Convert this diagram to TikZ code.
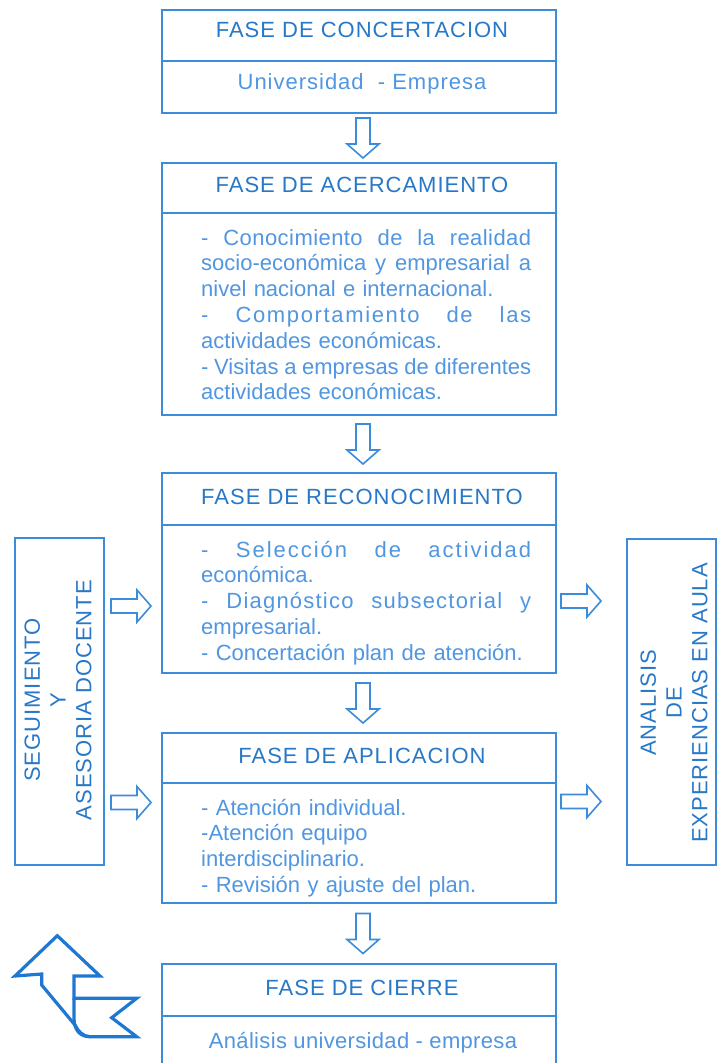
\documentclass[tikz,border=0pt]{standalone}
\usepackage{fontspec}
\setmainfont{Liberation Sans}
\newfontfamily\hdfont[LetterSpace=4.5]{Liberation Sans}
\newfontfamily\lowfont[LetterSpace=1.5]{Liberation Sans}
\newfontfamily\lsA[LetterSpace=9]{Liberation Sans}
\newfontfamily\lsB[LetterSpace=5.5]{Liberation Sans}
\newfontfamily\lsC[LetterSpace=7.5]{Liberation Sans}
\newfontfamily\lsD[LetterSpace=2]{Liberation Sans}
\usetikzlibrary{calc}
\definecolor{lineblue}{RGB}{60,140,220}
\definecolor{headblue}{RGB}{40,120,200}
\definecolor{bodyblue}{RGB}{80,150,225}
\definecolor{iconblue}{RGB}{30,120,210}
\newcommand{\jline}[2][\relax]{\makebox[330pt][s]{#1\spaceskip=0.278em plus 4em minus 0.1em\relax #2}}
\begin{document}
\begin{tikzpicture}[x=1pt,y=-1pt,
  every node/.style={font=\fontsize{22}{25.8}\selectfont},
  box/.style={draw=lineblue, line width=1.6pt, inner sep=0pt},
  headtext/.style={text=headblue, anchor=base, inner sep=0pt, font=\fontsize{22}{25.8}\selectfont\hdfont},
  bodytext/.style={text=bodyblue, anchor=base west, inner sep=0pt, text width=330pt, align=left},
  sidetext/.style={text=headblue, rotate=90, align=center, inner sep=0pt, font=\fontsize{22}{25.8}\selectfont\hdfont},
  arrowline/.style={draw=lineblue, line width=1.6pt, line join=miter, fill=white},
  barrow/.pic={\draw[arrowline] (-20,-7) -- (6,-7) -- (6,-16) -- (20,0) -- (6,16) -- (6,7) -- (-20,7) -- cycle;}
]
\useasboundingbox (0,0) rectangle (722,1063);
\fill[white] (0,0) rectangle (722,1063);
\clip (0,0) rectangle (722,1063);

% phase boxes
\node[box, minimum width=394pt, minimum height=51pt] (h1) at (359,35.5) {};
\node[box, minimum width=394pt, minimum height=52pt] (b1) at (359,87) {};
\node[box, minimum width=394pt, minimum height=50pt] (h2) at (359,188) {};
\node[box, minimum width=394pt, minimum height=202pt] (b2) at (359,314) {};
\node[box, minimum width=394pt, minimum height=52pt] (h3) at (359,499) {};
\node[box, minimum width=394pt, minimum height=148pt] (b3) at (359,599) {};
\node[box, minimum width=394pt, minimum height=50pt] (h4) at (359,758) {};
\node[box, minimum width=394pt, minimum height=120pt] (b4) at (359,843) {};
\node[box, minimum width=394pt, minimum height=52pt] (h5) at (359,990) {};
\node[box, minimum width=394pt, minimum height=64pt] (b5) at (359,1048) {};

% texts
\node[headtext] (t1) at (362,37) {FASE DE CONCERTACION};
\node[headtext, text=bodyblue] (u1) at (362,89) {Universidad\ \ - Empresa};
\node[headtext] (t2) at (362,192) {FASE DE ACERCAMIENTO};
\node[bodytext] (u2) at (201,245) {%
\jline[\lsD]{- Conocimiento de la realidad}\\
\jline{socio-económica y empresarial a}\\
nivel nacional e internacional.\\
\jline[\lsC]{- Comportamiento de las}\\
actividades económicas.\\
\jline{- Visitas a empresas de diferentes}\\
actividades económicas.};
\node[headtext] (t3) at (362,504) {FASE DE RECONOCIMIENTO};
\node[bodytext] (u3) at (201,557) {%
\jline[\lsA]{- Selección de actividad}\\
económica.\\
\jline[\lsB]{- Diagnóstico subsectorial y}\\
empresarial.\\
- Concertación plan de atención.};
\node[headtext] (t4) at (362,763) {FASE DE APLICACION};
\node[bodytext] (u4) at (201,815) {%
- Atención individual.\\
-Atención equipo\\
interdisciplinario.\\
- Revisión y ajuste del plan.};
\node[headtext] (t5) at (362,995) {FASE DE CIERRE};
\node[headtext, text=bodyblue, font=\fontsize{22}{25.8}\selectfont\lowfont] (u5) at (363,1048) {Análisis universidad - empresa};

% side boxes
\node[box, minimum width=89pt, minimum height=327pt] (sl) at (59.5,701.5) {};
\node[sidetext] (slt) at (58,700) {SEGUIMIENTO\\Y\\ASESORIA DOCENTE};
\node[box, minimum width=89pt, minimum height=326pt] (sr) at (671.5,702) {};
\node[sidetext] (srt) at (674,703) {ANALISIS\\DE\\EXPERIENCIAS EN AULA};

% down arrows
\pic[rotate=-90] at ($(b1.south)!0.5!(h2.north)+(4,0)$) {barrow};
\pic[rotate=-90] at ($(b2.south)!0.5!(h3.north)+(4,0)$) {barrow};
\pic[rotate=-90] at ($(b3.south)!0.5!(h4.north)+(4,0)$) {barrow};
\pic[rotate=-90] at ($(b4.south)!0.5!(h5.north)+(4,0)$) {barrow};

% side arrows
\pic at (131,606) {barrow};
\pic at (131,802.5) {barrow};
\pic at (581,601) {barrow};
\pic at (581,801.5) {barrow};

% return icon
\draw[draw=iconblue, line width=3.2pt, line join=miter]
  (57.3,935.7) -- (100,976) -- (74,976) -- (74,998.3) -- (136.7,998.3)
  -- (111.7,1017.7) -- (136.7,1036.7) -- (90,1036.7)
  .. controls (83,1036.7) and (78,1031) .. (75,1025)
  -- (41.7,985) -- (41.7,974) -- (15,976) -- cycle;
\draw[draw=iconblue, line width=3.2pt]
  (74,998.3) -- (74,1018) .. controls (74,1030) and (80,1036.7) .. (90,1036.7);
\end{tikzpicture}
\end{document}
